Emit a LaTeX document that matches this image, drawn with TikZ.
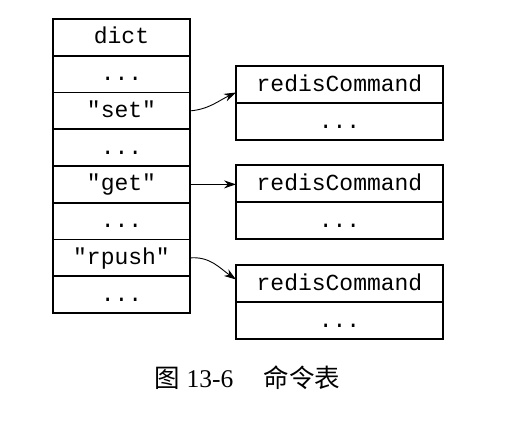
\documentclass[tikz,border=0pt]{standalone}
\usepackage{fontspec}
\setmainfont{Liberation Serif}
\setmonofont{Liberation Mono}
\newfontfamily\cjk{Noto Sans CJK SC}
\usetikzlibrary{positioning,arrows.meta}

\begin{document}
\begin{tikzpicture}[x=1pt,y=1pt,
	cell/.style={draw, line width=1.6pt, outer sep=0pt, inner sep=0pt, minimum width=137pt, minimum height=36.75pt, text height=15pt, text depth=2pt, font=\ttfamily\fontsize{23}{23}\selectfont},
	cmd/.style={cell, minimum width=207pt, minimum height=37pt},
	link/.style={-{Stealth[length=12pt,width=8pt]}, line width=0.9pt}]

	\useasboundingbox (0,0) rectangle (508,-426);

	% dict column
	\node (d0) [cell] at (121.5,-37.4) {dict};
	\node (d1) [cell, below=0pt of d0] {...};
	\node (d2) [cell, below=0pt of d1] {"set"};
	\node (d3) [cell, below=0pt of d2] {...};
	\node (d4) [cell, below=0pt of d3] {"get"};
	\node (d5) [cell, below=0pt of d4] {...};
	\node (d6) [cell, below=0pt of d5] {"rpush"};
	\node (d7) [cell, below=0pt of d6] {...};

	% commands
	\node (set) [cmd] at (339.5,-84.5) {redisCommand};
	\node (setx) [cmd, below=0pt of set] {...};
	\node (get) [cmd] at (339.5,-183.5) {redisCommand};
	\node (getx) [cmd, below=0pt of get] {...};
	\node (rpush) [cmd] at (339.5,-283.5) {redisCommand};
	\node (rpushx) [cmd, below=0pt of rpush] {...};

	\draw [link] (d2.east) to[out=5,in=205] ([yshift=-8pt]set.west);
	\draw [link] (d4.east) -- (d4.east -| get.west);
	\draw [link] (d6.east) to[out=5,in=145] ([yshift=4pt]rpush.west);

	\node (caption) at (247.5,-378) {\fontsize{25.5}{25.5}\selectfont{\cjk 图}\hspace{0.25em}13-6\hspace{1.2em}{\cjk 命令表}};

\end{tikzpicture}
\end{document}
